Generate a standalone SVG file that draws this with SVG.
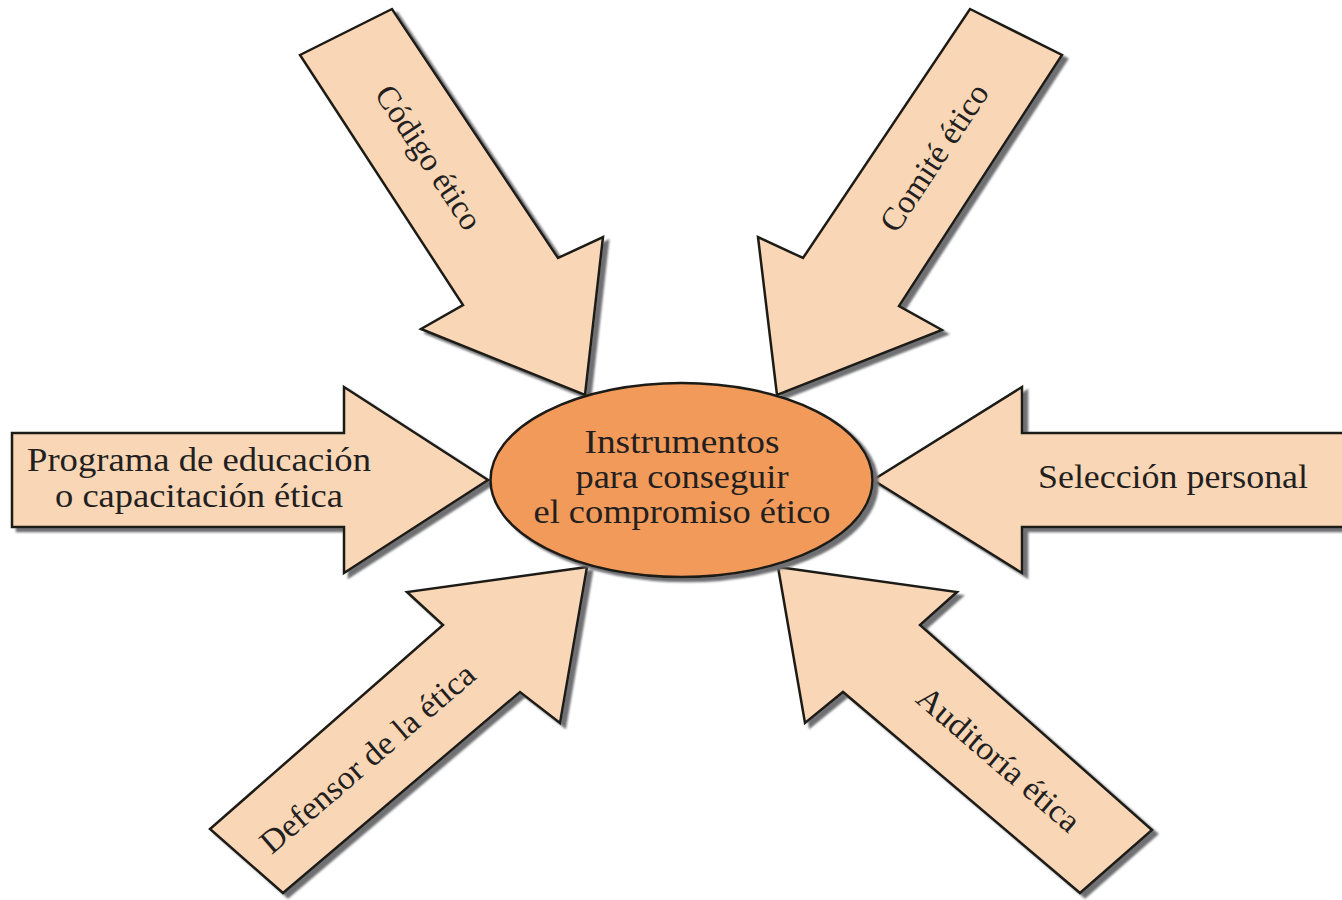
<svg xmlns="http://www.w3.org/2000/svg" width="1342" height="900" viewBox="0 0 1342 900">
<defs>
<filter id="shadow" x="-10%" y="-10%" width="130%" height="130%">
<feGaussianBlur in="SourceAlpha" stdDeviation="1.2" result="b"/>
<feOffset in="b" dx="5" dy="4" result="o"/>
<feFlood flood-color="#6f7073" result="c"/>
<feComposite in="c" in2="o" operator="in" result="s"/>
<feMerge><feMergeNode in="s"/><feMergeNode in="SourceGraphic"/></feMerge>
</filter>
<style>
.arrow{fill:#f9d6b6;stroke:#1f1a17;stroke-width:2.5;stroke-linejoin:miter;filter:url(#shadow)}
.hub{fill:#f19a5a;stroke:#1f1a17;stroke-width:2.5;filter:url(#shadow)}
.t{font-family:"Liberation Serif","Times New Roman",serif;font-size:34px;fill:#231f20}
.r{font-size:33px}
.tc{text-anchor:middle}
</style>
</defs>
<rect width="1342" height="900" fill="#ffffff"/>
<g id="arrows">
<g id="codigo">
<path class="arrow" d="M300,55 L392,9 L558,258 L603,237 L585,395 L421,329 L463,305 Z"/>
<text class="t r tc" transform="translate(428,158) rotate(56.5)" y="10" textLength="166" lengthAdjust="spacingAndGlyphs">Código ético</text>
</g>
<g id="comite">
<path class="arrow" d="M970,9 L1062,55 L899,306 L942,330 L777,395 L758,237 L803,258 Z"/>
<text class="t r tc" transform="translate(935,158) rotate(-56.5)" y="10" textLength="170" lengthAdjust="spacingAndGlyphs">Comité ético</text>
</g>
<g id="programa">
<path class="arrow" d="M12,433 L344,433 L344,387 L488,480 L344,573 L344,527 L12,527 Z"/>
<text class="t tc" x="199" y="471" textLength="344" lengthAdjust="spacingAndGlyphs">Programa de educación</text>
<text class="t tc" x="199" y="507" textLength="288" lengthAdjust="spacingAndGlyphs">o capacitación ética</text>
</g>
<g id="seleccion">
<path class="arrow" d="M1352,433 L1022,433 L1022,387 L873,480 L1022,573 L1022,527 L1352,527 Z"/>
<text class="t tc" x="1173" y="488" textLength="270" lengthAdjust="spacingAndGlyphs">Selección personal</text>
</g>
<g id="defensor">
<path class="arrow" d="M587,567 L407,592 L443,625 L210,829 L283,893 L520,692 L560,723 Z"/>
<text class="t r tc" transform="translate(368,759) rotate(-40.7)" y="10" textLength="272" lengthAdjust="spacingAndGlyphs">Defensor de la ética</text>
</g>
<g id="auditoria">
<path class="arrow" d="M778,567 L957,592 L920,625 L1152,830 L1080,893 L843,692 L805,723 Z"/>
<text class="t r tc" transform="translate(998,760) rotate(40.7)" y="10" textLength="204" lengthAdjust="spacingAndGlyphs">Auditoría ética</text>
</g>
</g>
<g id="centro">
<ellipse class="hub" cx="681.5" cy="480" rx="191" ry="97"/>
<text class="t tc" x="682" y="453" textLength="195" lengthAdjust="spacingAndGlyphs">Instrumentos</text>
<text class="t tc" x="682" y="488" textLength="213" lengthAdjust="spacingAndGlyphs">para conseguir</text>
<text class="t tc" x="682" y="523" textLength="297" lengthAdjust="spacingAndGlyphs">el compromiso ético</text>
</g>
</svg>
